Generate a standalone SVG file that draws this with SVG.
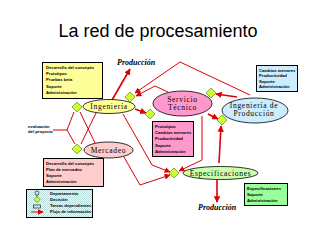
<svg xmlns="http://www.w3.org/2000/svg" width="317" height="238" viewBox="0 0 317 238">
<style>
.title{font-family:"Liberation Sans",Arial,sans-serif;font-size:18px;fill:#000}
.lbl{font-family:"Liberation Serif","Times New Roman",serif;font-size:7.5px;fill:#000;letter-spacing:0.7px;text-anchor:middle}
.prod{font-family:"Liberation Serif","Times New Roman",serif;font-size:8px;font-weight:bold;font-style:italic}
.sm{font-family:"Liberation Sans",Arial,sans-serif;font-size:4.2px;font-weight:bold;fill:#000}
.box{stroke:#000;stroke-width:1}
.ell{stroke:#000;stroke-width:0.8}
.dia{fill:#ccff33;stroke:#556600;stroke-width:0.6}
.thick{fill:none;stroke:#dd0000;stroke-width:1.6}
.thin{fill:none;stroke:#dd0000;stroke-width:1}
</style>
<defs>
<marker id="ah" viewBox="0 0 10 10" refX="9" refY="5" markerWidth="4" markerHeight="4" orient="auto" markerUnits="strokeWidth">
<path d="M0,0 L10,5 L0,10 z" fill="#dd0000"/>
</marker>
<marker id="ah2" viewBox="0 0 10 10" refX="9" refY="5" markerWidth="6" markerHeight="6" orient="auto" markerUnits="strokeWidth">
<path d="M0,0 L10,5 L0,10 z" fill="#dd0000"/>
</marker>
<pattern id="hatch" width="2" height="2" patternUnits="userSpaceOnUse">
<rect width="2" height="2" fill="#e8ffff"/>
<rect width="1" height="1" fill="#b8dcdc"/>
<rect x="1" y="1" width="1" height="1" fill="#b8dcdc"/>
</pattern>
</defs>
<rect width="317" height="238" fill="#fff"/>
<text class="title" x="158" y="37" text-anchor="middle">La red de procesamiento</text>

<g id="connectors">
<polyline class="thin" points="250,95 180,62 135,93" marker-end="url(#ah2)"/>
<polyline class="thin" points="168,92 155,86 136,96" marker-end="url(#ah2)"/>
<line class="thick" x1="112" y1="100" x2="130" y2="69" marker-end="url(#ah)"/>
<line class="thick" x1="237" y1="97" x2="216" y2="94" marker-end="url(#ah)"/>
<line class="thick" x1="135" y1="109" x2="146" y2="113" marker-end="url(#ah)"/>
<line class="thick" x1="208" y1="114" x2="218" y2="119" marker-end="url(#ah)"/>
<polyline class="thin" points="202,116 202,160 179,171" marker-end="url(#ah2)"/>
<line class="thick" x1="219" y1="163" x2="221" y2="126" marker-end="url(#ah)"/>
<polyline class="thin" points="123,114 152,165 170,172" marker-end="url(#ah2)"/>
<polyline class="thin" points="124,157 140,185 170,175" marker-end="url(#ah2)"/>
<line class="thick" x1="217" y1="180" x2="217" y2="202" marker-end="url(#ah)"/>
<line class="thin" x1="53" y1="130" x2="67" y2="130"/>
<polyline class="thin" points="74,112 67,130 75,144"/>
<line class="thin" x1="95" y1="143" x2="80" y2="112"/>
<line class="thin" x1="96" y1="113" x2="81" y2="144"/>
</g>

<g id="produccion-top"><text class="prod" fill="#000" x="117" y="65">Producción</text></g>
<g id="produccion-bottom"><text class="prod" fill="#000" x="198" y="210">Producción</text></g>
<g id="evaluacion"><text class="sm" x="28" y="128">evaluación</text><text class="sm" x="28" y="133">del proyecto</text></g>

<g id="box-ingenieria">
<rect class="box" x="42.5" y="62.5" width="60" height="36" fill="#ffff99"/>
<text class="sm" x="46" y="69">Desarrollo del concepto</text>
<text class="sm" x="46" y="75">Prototipos</text>
<text class="sm" x="46" y="81">Pruebas beta</text>
<text class="sm" x="46" y="87.5">Soporte</text>
<text class="sm" x="46" y="94">Administración</text>
</g>
<g id="box-produccion">
<rect class="box" x="256.5" y="65.5" width="41" height="26" fill="#ccecff"/>
<text class="sm" x="259" y="71.5">Cambios menores</text>
<text class="sm" x="259" y="77">Productividad</text>
<text class="sm" x="259" y="82.5">Soporte</text>
<text class="sm" x="259" y="88">Administración</text>
</g>
<g id="box-servicio">
<rect class="box" x="152.5" y="121.5" width="41" height="35" fill="#ff99cc"/>
<text class="sm" x="155" y="128">Prototipos</text>
<text class="sm" x="155" y="134">Cambios menores</text>
<text class="sm" x="155" y="140">Productividad</text>
<text class="sm" x="155" y="146.5">Soporte</text>
<text class="sm" x="155" y="152.5">Administración</text>
</g>
<g id="box-mercadeo">
<rect class="box" x="43.5" y="158.5" width="60" height="28" fill="#ffcccc"/>
<text class="sm" x="46" y="164.5">Desarrollo del concepto</text>
<text class="sm" x="46" y="170.5">Plan de mercadeo</text>
<text class="sm" x="46" y="177">Soporte</text>
<text class="sm" x="46" y="183">Administración</text>
</g>
<g id="box-especificaciones">
<rect class="box" x="244.5" y="183.5" width="43" height="22" fill="#99ff99"/>
<text class="sm" x="247" y="189.5">Especificaciones</text>
<text class="sm" x="247" y="195.5">Soporte</text>
<text class="sm" x="247" y="201.5">Administración</text>
</g>

<g id="ingenieria">
<ellipse class="ell" cx="109" cy="106.5" rx="26" ry="7" fill="#ffff99"/>
<text class="lbl" x="109" y="109">Ingeniería</text>
</g>
<g id="servicio">
<ellipse class="ell" cx="182.5" cy="103.5" rx="29.5" ry="12.5" fill="#ff99cc"/>
<text class="lbl" x="182.5" y="101.5">Servicio</text>
<text class="lbl" x="182.5" y="109.5">Técnico</text>
</g>
<g id="ing-produccion">
<ellipse class="ell" cx="255" cy="110.5" rx="33" ry="12.5" fill="#ccecff"/>
<text class="lbl" x="254" y="108">Ingeniería de</text>
<text class="lbl" x="254" y="116">Producción</text>
</g>
<g id="mercadeo">
<ellipse class="ell" cx="108.5" cy="150" rx="24.5" ry="8" fill="#ffcccc"/>
<text class="lbl" x="108.5" y="152.5">Mercadeo</text>
</g>
<g id="especificaciones">
<ellipse class="ell" cx="220.5" cy="173" rx="37.5" ry="6.5" fill="#ccffaa"/>
<text class="lbl" x="220.5" y="175.5">Especificaciones</text>
</g>

<g id="diamonds">
<polygon class="dia" points="77,102 82,107 77,112 72,107"/>
<polygon class="dia" points="130,92 135,97 130,102 125,97"/>
<polygon class="dia" points="150,109 155,114 150,119 145,114"/>
<polygon class="dia" points="211,88 216,93 211,98 206,93"/>
<polygon class="dia" points="222,115 227,120 222,125 217,120"/>
<polygon class="dia" points="77,144 82,149 77,154 72,149"/>
<polygon class="dia" points="174,168 179,173 174,178 169,173"/>
</g>

<g id="legend">
<rect class="box" x="26.5" y="189.5" width="66" height="28" fill="url(#hatch)"/>
<circle cx="37" cy="193" r="2" fill="none" stroke="#000" stroke-width="0.6"/>
<line x1="37" y1="195" x2="37" y2="197" stroke="#000" stroke-width="0.6"/>
<polygon class="dia" points="37,196.5 40,199.5 37,202.5 34,199.5"/>
<rect x="33.5" y="205" width="7" height="3" fill="none" stroke="#000" stroke-width="0.6"/>
<line class="thin" x1="31" y1="212" x2="43" y2="212" marker-end="url(#ah2)"/>
<text class="sm" x="50" y="195">Departamento</text>
<text class="sm" x="50" y="201">Decisión</text>
<text class="sm" x="50" y="207">Tareas dependientes</text>
<text class="sm" x="50" y="213">Flujo de información</text>
</g>
</svg>
